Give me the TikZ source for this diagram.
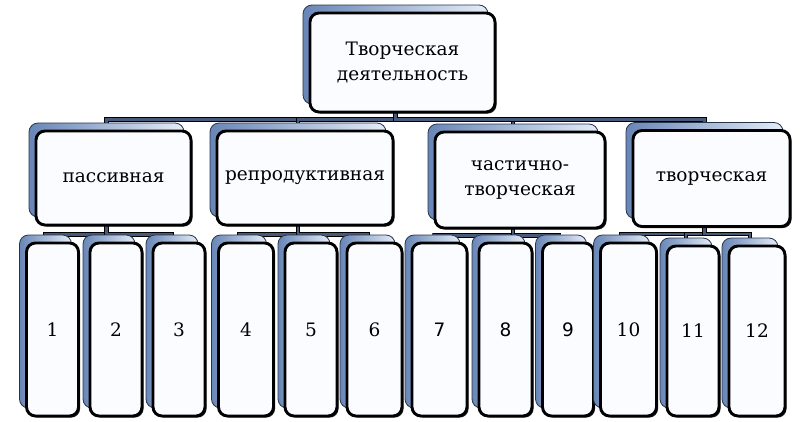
\documentclass[tikz,border=0pt]{standalone}
\usepackage{fontspec}
\setmainfont{DejaVu Serif}
\newfontfamily\numsans{DejaVu Sans}
\usetikzlibrary{shadows}
\pgfdeclarelayer{bg}
\pgfsetlayers{bg,main}
\definecolor{backblue}{RGB}{104,134,182}
\definecolor{backlight}{RGB}{228,236,248}
\definecolor{backedge}{RGB}{40,52,75}
\definecolor{frontfill}{RGB}{250,252,255}
\definecolor{barfill}{RGB}{72,90,122}
\tikzset{
  backbox/.style={draw=backedge, line width=0.8pt, left color=backblue, right color=backlight, rounded corners=9pt, inner sep=0pt},
  frontbox/.style={draw=black, line width=2.9pt, fill=frontfill, rounded corners=9pt, inner sep=2pt,
     align=center, font=\fontsize{18.5}{25}\selectfont,
     drop shadow={shadow xshift=1.6pt, shadow yshift=-1.6pt, fill=black, opacity=0.85}},
  conn/.style={draw=black, line width=0.9pt, double=barfill, double distance=2.8pt}
}
% #1 name, #2 cx, #3 cy, #4 w, #5 h, #6 text
\newcommand\dbox[6]{%
  \node[backbox, minimum width=#4pt, minimum height=#5pt] (#1b) at (#2-7,#3-8) {};
  \node[frontbox, minimum width=#4pt, minimum height=#5pt] (#1) at (#2,#3) {#6};
}
\begin{document}
\begin{tikzpicture}[x=1pt,y=-1pt]
\useasboundingbox (0,0) rectangle (803,421);
\dbox{top}{402.5}{62.5}{185}{99}{Творческая\\деятельность}
\dbox{A}{113.5}{178}{155}{94}{пассивная}
\dbox{B}{305}{178}{176}{94}{репродуктивная}
\dbox{C}{520}{180}{170}{96}{частично-\\творческая}
\dbox{D}{711.5}{178.5}{157}{96}{творческая}
\dbox{n1}{52.5}{329.5}{52}{173}{1}
\dbox{n2}{116}{329.5}{52}{173}{2}
\dbox{n3}{179}{329.5}{52}{173}{3}
\dbox{n4}{246}{329.5}{55}{173}{4}
\dbox{n5}{311}{329.5}{52}{173}{5}
\dbox{n6}{374.5}{329.5}{55}{173}{6}
\dbox{n7}{439.5}{329.5}{55}{173}{\numsans 7}
\dbox{n8}{505.5}{329.5}{53}{173}{\numsans 8}
\dbox{n9}{568}{329.5}{51}{173}{\numsans 9}
\dbox{n10}{628.5}{329.5}{56}{173}{10}
\dbox{n11}{693}{331}{52}{170}{11}
\dbox{n12}{757}{331}{56}{170}{12}
\begin{pgfonlayer}{bg}
  \foreach \c in {A,B,C,D}
    \draw[conn] (topb.south) -- ++(0,15) -| (\c b.north);
  \foreach \c in {n1,n2,n3}
    \draw[conn] (Ab.south) -- ++(0,17) -| (\c b.north);
  \foreach \c in {n4,n5,n6}
    \draw[conn] (Bb.south) -- ++(0,17) -| (\c b.north);
  \foreach \c in {n7,n8,n9}
    \draw[conn] (Cb.south) -- ++(0,15) -| (\c b.north);
  \foreach \c in {n10,n11,n12}
    \draw[conn] (Db.south) -- ++(0,15) -| (\c b.north);
\end{pgfonlayer}
\end{tikzpicture}
\end{document}
